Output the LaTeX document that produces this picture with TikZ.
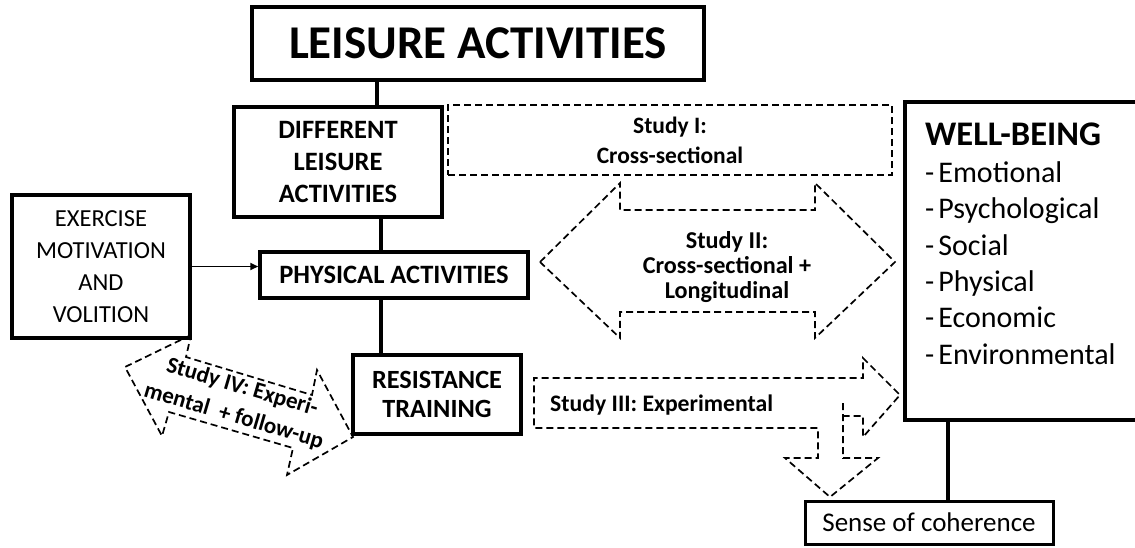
\documentclass[tikz,border=0pt]{standalone}
\usepackage{fontspec}
\setmainfont{Carlito}
\usetikzlibrary{arrows.meta}
\newcommand{\itemdash}{-\kern4pt}
\begin{document}
\begin{tikzpicture}[x=1pt,y=-1pt,
  box/.style={draw, line width=3.5pt, inner sep=0pt, align=center},
  link/.style={line width=3.5pt},
  dashline/.style={line width=1.7pt, dash pattern=on 7pt off 4pt, line join=miter},
  headfont/.style={font=\fontsize{26.5}{32}\selectfont\bfseries},
  studyfont/.style={font=\fontsize{23.7}{28}\selectfont\bfseries},
]
\useasboundingbox (0,0) rectangle (1135,547);
\clip (0,0) rectangle (1135,547);

% main boxes
\node[box, minimum width=452pt, minimum height=73pt,
      font=\fontsize{47}{56}\selectfont\bfseries] (leisure) at (478,43.5) {LEISURE ACTIVITIES};
\node[box, headfont, minimum width=208pt, minimum height=110pt] (diff) at (338,162)
  {DIFFERENT\\LEISURE\\ACTIVITIES};
\node[box, headfont, minimum width=268pt, minimum height=46pt] (phys) at (394,275)
  {PHYSICAL ACTIVITIES};
\node[box, font=\fontsize{26.3}{29}\selectfont\bfseries, minimum width=168pt, minimum height=79pt]
  (resist) at (437,394.5) {RESISTANCE\\TRAINING};
\node[box, font=\fontsize{24.5}{32}\selectfont, minimum width=178pt, minimum height=143pt]
  (exer) at (101,266.5) {EXERCISE\\MOTIVATION\\AND\\VOLITION};
\node[box, anchor=north west, minimum width=260pt, minimum height=318pt] (well) at (903,100) {};
\node[anchor=north west, inner sep=0pt, align=left, font=\fontsize{30}{36.4}\selectfont]
  (wbtext) at (925,123)
  {{\fontsize{34.5}{36.4}\selectfont\bfseries WELL-BEING}\\\itemdash Emotional\\\itemdash Psychological\\\itemdash Social\\\itemdash Physical\\\itemdash Economic\\\itemdash Environmental};
\node[box, line width=3pt, minimum width=248pt, minimum height=43pt,
      font=\fontsize{27}{30}\selectfont] (soc) at (929,522.5) {Sense of coherence};

% solid connectors
\coordinate (c1) at (377,0);
\coordinate (c2) at (381,0);
\coordinate (c3) at (948,0);
\draw[link] (leisure.south -| c1) -- (diff.north -| c1);
\draw[link] (diff.south -| c2) -- (phys.north -| c2);
\draw[link] (phys.south -| c2) -- (resist.north -| c2);
\draw[link] (well.south -| c3) -- (soc.north -| c3);
\draw[line width=1.8pt, -{Triangle[length=8pt,width=7pt]}] (exer.east) -- (exer.east -| phys.west);

% Study I
\node[draw, dashline, align=center, inner sep=0pt,
      font=\fontsize{23.5}{30}\selectfont\bfseries,
      minimum width=444pt, minimum height=70pt] (s1) at (670,140) {Study I:\\Cross-sectional};

% Study II: double arrow
\draw[dashline] (540,262) -- (620,183) -- (620,210) -- (815,210) -- (815,183) -- (895,262)
  -- (815,338) -- (815,312) -- (620,312) -- (620,338) -- cycle;
\node[align=center, inner sep=0pt, font=\fontsize{24.2}{25}\selectfont\bfseries] (s2) at (727,267)
  {Study II:\\Cross-sectional +\\Longitudinal};

% Study III: forked arrow to well-being and sense of coherence
\draw[dashline] (843,403) -- (843,458) -- (878,458) -- (830,497) -- (785,458) -- (818,458)
  -- (818,428) -- (534,428) -- (534,378) -- (863,378) -- (863,358) -- (900,395)
  -- (863,437) -- (863,416) -- (843,416);
\node[anchor=base west, inner sep=0pt, studyfont] (s3) at (550,411) {Study III: Experimental};

% Study IV: tilted double arrow
\draw[dashline] (191,335) -- (125,367) -- (162,436) -- (169,412) -- (293,448) -- (287,475)
  -- (353,437) -- (317,370) -- (312,395) -- (186,357) -- cycle;
\node[align=center, inner sep=0pt, rotate=-16.5, font=\fontsize{23}{30}\selectfont\bfseries]
  (s4) at (238,402) {Study IV: Experi-\\mental~~+ follow-up};
\end{tikzpicture}
\end{document}
